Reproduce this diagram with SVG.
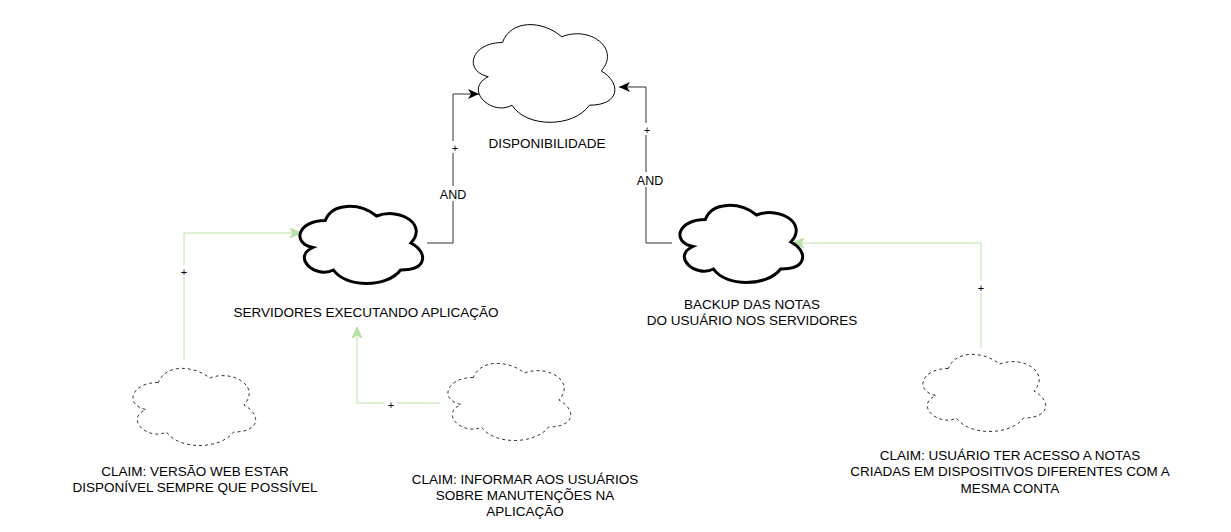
<svg xmlns="http://www.w3.org/2000/svg" width="1231" height="532" viewBox="0 0 1231 532">
<defs>
<marker id="arrB" markerUnits="userSpaceOnUse" markerWidth="12" markerHeight="10" viewBox="0 0 12 10" refX="11" refY="5" orient="auto">
<path d="M0,0 L11,5 L0,10 L3,5 Z" fill="#000"/>
</marker>
<marker id="arrG" markerUnits="userSpaceOnUse" markerWidth="12" markerHeight="10" viewBox="0 0 12 10" refX="11" refY="5" orient="auto">
<path d="M0,0 L11,5 L0,10 L3,5 Z" fill="#B9E0A5" stroke="#B9E0A5" stroke-width="1"/>
</marker>
</defs>
<style>
.t{font-family:"Liberation Sans",Arial,sans-serif;font-size:13.5px;fill:#000;text-anchor:middle}
.l{font-family:"Liberation Sans",Arial,sans-serif;font-size:12.5px;fill:#000;text-anchor:middle}
.p{font-family:"Liberation Sans",Arial,sans-serif;font-size:11px;fill:#000;text-anchor:middle}
.c1{fill:#fff;stroke:#000;stroke-width:1}
.c3{fill:#fff;stroke:#000;stroke-width:3}
.cd{fill:#fff;stroke:#333;stroke-width:1;stroke-dasharray:3 3}
.eb{fill:none;stroke:#333;stroke-width:1;marker-end:url(#arrB)}
.eg{fill:none;stroke:#B9E0A5;stroke-width:1;marker-end:url(#arrG)}
.bg{fill:#fff}
</style>
<g id="edges">
<path class="eb" d="M427,243 H453 V94 H479"/>
<rect class="bg" x="450" y="141" width="10" height="12"/>
<text class="p" x="455" y="152">+</text>
<rect class="bg" x="438" y="186" width="30" height="15"/>
<text class="l" x="453" y="199">AND</text>
<path class="eb" d="M672,243 H646 V87 H619"/>
<rect class="bg" x="642" y="123" width="10" height="12"/>
<text class="p" x="647" y="134">+</text>
<rect class="bg" x="635" y="172" width="30" height="15"/>
<text class="l" x="650" y="185">AND</text>
<path class="eg" d="M184,360 V233 H301"/>
<rect class="bg" x="179" y="265" width="10" height="12"/>
<text class="p" x="184" y="276">+</text>
<path class="eg" d="M440,403 H357 V327"/>
<rect class="bg" x="385" y="398" width="12" height="12"/>
<text class="p" x="391" y="409">+</text>
<path class="eg" d="M981,348 V243 H793"/>
<rect class="bg" x="976" y="281" width="10" height="12"/>
<text class="p" x="981" y="292">+</text>
</g>
<g id="disponibilidade">
<path class="c1" d="M502.5,42.5 C470.9,42.5 463,71 488.3,76.7 C463,89.2 491.4,116.6 512,105.2 C526.2,128 573.6,128 589.4,105.2 C621,105.2 621,82.4 601.3,71 C621,48.2 589.4,25.4 561.8,36.8 C542,19.7 510.4,19.7 502.5,42.5 Z"/>
<text class="t" x="547" y="148">DISPONIBILIDADE</text>
</g>
<g id="servidores">
<path class="c3" d="M325.3,220.5 C297.9,220.5 291,243 312.9,247.5 C291,257.4 315.7,279 333.5,270 C345.8,288 386.9,288 400.6,270 C428,270 428,252 410.9,243 C428,225 400.6,207 376.6,216 C359.5,202.5 332.1,202.5 325.3,220.5 Z"/>
<text class="t" x="366" y="317">SERVIDORES EXECUTANDO APLICAÇÃO</text>
</g>
<g id="backup">
<path class="c3" d="M705.3,219.5 C677.9,219.5 671,242 692.9,246.5 C671,256.4 695.7,278 713.5,269 C725.8,287 766.9,287 780.6,269 C808,269 808,251 790.9,242 C808,224 780.6,206 756.6,215 C739.5,201.5 712.1,201.5 705.3,219.5 Z"/>
<text class="t" x="752" y="309">BACKUP DAS NOTAS</text>
<text class="t" x="752" y="325">DO USUÁRIO NOS SERVIDORES</text>
</g>
<g id="claim1">
<path class="cd" d="M158.3,382.5 C130.9,382.5 124,405 145.9,409.5 C124,419.4 148.7,441 166.5,432 C178.8,450 219.9,450 233.6,432 C261,432 261,414 243.9,405 C261,387 233.6,369 209.6,378 C192.5,364.5 165.1,364.5 158.3,382.5 Z"/>
<text class="t" x="195" y="476">CLAIM: VERSÃO WEB ESTAR</text>
<text class="t" x="195" y="492">DISPONÍVEL SEMPRE QUE POSSÍVEL</text>
</g>
<g id="claim2">
<path class="cd" d="M473.3,377.5 C445.9,377.5 439,400 460.9,404.5 C439,414.4 463.7,436 481.5,427 C493.8,445 534.9,445 548.6,427 C576,427 576,409 558.9,400 C576,382 548.6,364 524.6,373 C507.5,359.5 480.1,359.5 473.3,377.5 Z"/>
<text class="t" x="525" y="484">CLAIM: INFORMAR AOS USUÁRIOS</text>
<text class="t" x="525" y="500">SOBRE MANUTENÇÕES NA</text>
<text class="t" x="525" y="516">APLICAÇÃO</text>
</g>
<g id="claim3">
<path class="cd" d="M948.3,368.5 C920.9,368.5 914,391 935.9,395.5 C914,405.4 938.7,427 956.5,418 C968.8,436 1009.9,436 1023.6,418 C1051,418 1051,400 1033.9,391 C1051,373 1023.6,355 999.6,364 C982.5,350.5 955.1,350.5 948.3,368.5 Z"/>
<text class="t" x="1010" y="460">CLAIM: USUÁRIO TER ACESSO A NOTAS</text>
<text class="t" x="1010" y="476">CRIADAS EM DISPOSITIVOS DIFERENTES COM A</text>
<text class="t" x="1010" y="493">MESMA CONTA</text>
</g>
</svg>
